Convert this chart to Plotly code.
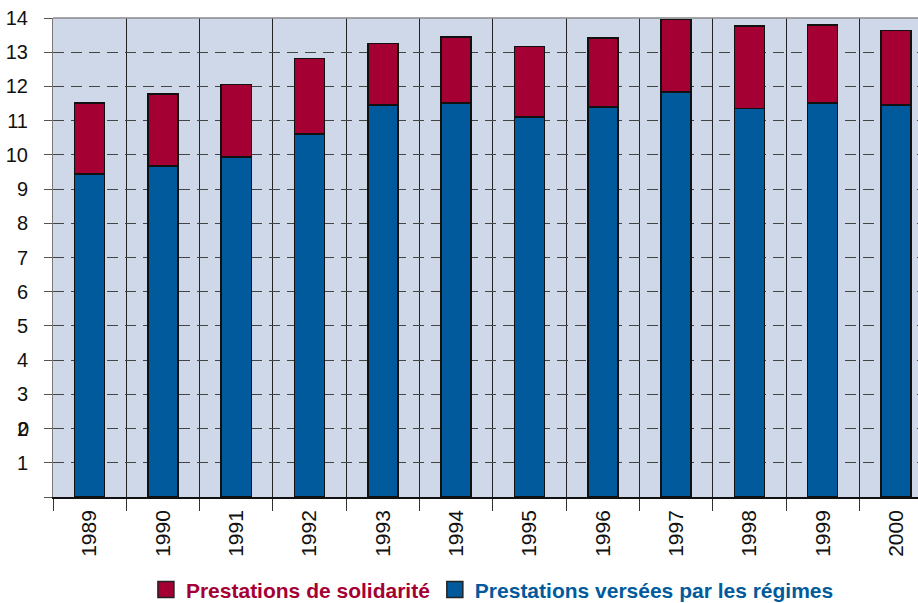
import plotly.graph_objects as go

years = ["1989", "1990", "1991", "1992", "1993", "1994",
         "1995", "1996", "1997", "1998", "1999", "2000"]
regimes = [9.44, 9.68, 9.94, 10.61, 11.46, 11.52, 11.11, 11.40, 11.84, 11.35, 11.52, 11.46]
totals = [11.52, 11.78, 12.05, 12.81, 13.25, 13.45, 13.16, 13.42, 13.95, 13.77, 13.80, 13.63]
solidarite = [round(t - r, 2) for t, r in zip(totals, regimes)]

y_ticks = list(range(0, 15))
y_ticktext = [""] + [str(v) for v in range(1, 15)]

RED = "#A50034"
BLUE = "#005A9C"
NAME_REG = "Prestations versées par les régimes"
NAME_SOL = "Prestations de solidarité"

fig = go.Figure()
fig.add_trace(go.Bar(
    x=years, y=regimes, name=NAME_REG, showlegend=False,
    marker=dict(color=BLUE, line=dict(color="#111111", width=1.5)),
    width=0.41,
))
fig.add_trace(go.Bar(
    x=years, y=solidarite, name=NAME_SOL, showlegend=False,
    marker=dict(color=RED, line=dict(color="#111111", width=1.5)),
    width=0.41,
))

# legend entries with large square swatches
for name, color in [(NAME_SOL, RED), (NAME_REG, BLUE)]:
    fig.add_trace(go.Scatter(
        x=[None], y=[None], mode="markers",
        name=f"<b><span style='color:{color}'>{name}</span></b>",
        marker=dict(symbol="square", size=20, color=color,
                    line=dict(color="#222222", width=1.5)),
        showlegend=True,
    ))

fig.update_layout(
    width=918, height=603,
    margin=dict(l=53, r=0, t=18, b=106, autoexpand=False),
    barmode="stack",
    paper_bgcolor="white",
    plot_bgcolor="#CFD8E9",
    font=dict(family="Liberation Sans, Arial, sans-serif", size=20, color="#111111"),
    showlegend=True,
    legend=dict(
        orientation="h", traceorder="normal",
        x=0.508, xanchor="center", y=-0.194, yanchor="middle",
        font=dict(size=21), itemwidth=30,
    ),
    bargap=0.59,
)

fig.update_xaxes(
    type="category",
    range=[-0.5, 11.3],
    automargin=False,
    tickson="boundaries",
    ticks="outside", ticklen=12, tickcolor="#333333", tickwidth=1,
    showgrid=True, gridcolor="#222222", gridwidth=1,
    tickangle=-90,
    tickfont=dict(size=21),
    ticklabelstandoff=3,
    showline=True, linecolor="#111111", linewidth=1.5,
)
fig.update_yaxes(
    range=[0, 14],
    automargin=False,
    tickvals=y_ticks, ticktext=y_ticktext,
    ticks="outside", ticklen=8, tickcolor="#555555",
    showgrid=True, gridcolor="#444444", griddash="11px,7px", gridwidth=1.2,
    tickfont=dict(size=20),
    ticklabelstandoff=12,
    showline=True, linecolor="#777777", linewidth=1,
    zeroline=False,
)

# stray "0" label printed over the 2 tick
fig.add_annotation(
    xref="paper", yref="y", x=0, y=2, xanchor="right", yanchor="middle",
    xshift=-22, text="0", showarrow=False, font=dict(size=20, color="#111111"),
)
# top border of the plotting area
fig.add_shape(type="line", xref="paper", yref="paper", x0=0, x1=1, y0=1, y1=1,
              line=dict(color="#888888", width=1.5))

fig.write_html("out.html")
